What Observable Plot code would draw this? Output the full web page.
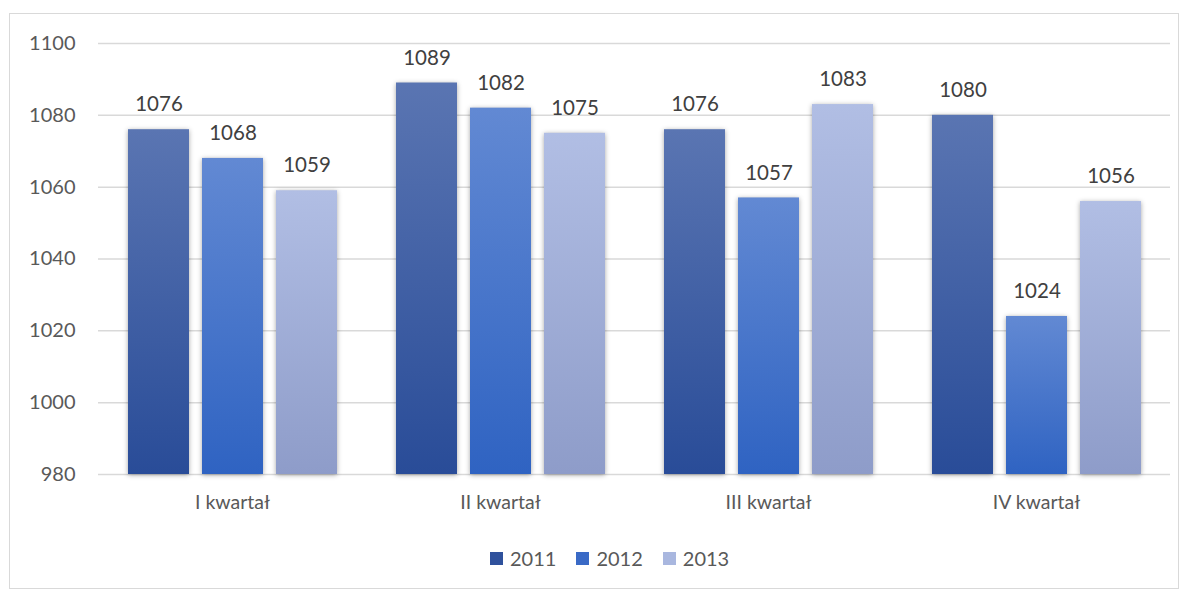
<!DOCTYPE html>
<html>
<head>
<meta charset="utf-8">
<script src="https://cdn.jsdelivr.net/npm/d3@7"></script>
<script src="https://cdn.jsdelivr.net/npm/@observablehq/plot@0.6"></script>
<style>
  html, body { margin: 0; padding: 0; background: #fff; }
  #frame { position: absolute; left: 9px; top: 13px; width: 1170px; height: 576px; border: 1px solid #d9d9d9; box-sizing: border-box; }
  #chart { position: absolute; left: 0; top: 0; }
  #legend { position: absolute; top: 546px; left: 490px; display: flex; align-items: center; font-family: Lato, sans-serif; font-size: 20px; color: #595959; }
  #legend .item { display: flex; align-items: center; margin-right: 20px; }
  #legend .sw { width: 13px; height: 13px; margin-right: 7px; }
  g[aria-label="bar"] rect { filter: drop-shadow(0px 1px 2.5px rgba(0,0,0,0.35)); }
</style>
</head>
<body>
<div id="frame"></div>
<div id="chart"></div>
<div id="legend"></div>
<script>
const quarters = ["I kwartał", "II kwartał", "III kwartał", "IV kwartał"];
const years = ["2011", "2012", "2013"];
const values2011 = [1076, 1089, 1076, 1080];
const values2012 = [1068, 1082, 1057, 1024];
const values2013 = [1059, 1075, 1083, 1056];
const yTicks = [980, 1000, 1020, 1040, 1060, 1080, 1100];

const gradients = {
  "2011": ["#5a75b2", "#294c98"],
  "2012": ["#6289d3", "#2f63c2"],
  "2013": ["#b1bee4", "#8e9cc9"]
};
const swatch = { "2011": "#2f519c", "2012": "#3a6ac6", "2013": "#a9b7df" };

const series = { "2011": values2011, "2012": values2012, "2013": values2013 };
const data = [];
quarters.forEach((q, i) => years.forEach(y => data.push({ q, year: y, v: series[y][i] })));

const plot = Plot.plot({
  width: 1185,
  height: 530,
  marginLeft: 98,
  marginRight: 15,
  marginTop: 43,
  marginBottom: 56,
  style: { fontFamily: "Lato, sans-serif", background: "transparent" },
  fx: { domain: quarters, paddingInner: 0, paddingOuter: 0, label: null },
  x: { domain: years, paddingInner: 0.1757, paddingOuter: 0.3986, axis: null },
  y: { domain: [980, 1100], label: null },
  color: { type: "identity" },
  marks: [
    Plot.ruleY(yTicks, { stroke: "#d9d9d9", strokeWidth: 1.5 }),
    Plot.barY(data, { fx: "q", x: "year", y1: 980, y2: "v", fill: d => `url(#g${d.year})` }),
    Plot.text(data, { fx: "q", x: "year", y: "v", text: d => String(d.v), dy: -25, fill: "#404040", fontSize: 20.5 }),
    Plot.axisY(yTicks, { tickSize: 0, tickPadding: 23, fontSize: 20, fill: "#595959", label: null, tickFormat: d => String(d) }),
    Plot.axisFx({ anchor: "bottom", tickSize: 0, tickPadding: 21, fontSize: 19.5, fill: "#595959", label: null })
  ]
});

const defs = d3.select(plot).insert("defs", ":first-child");
years.forEach(y => {
  const g = defs.append("linearGradient").attr("id", "g" + y)
    .attr("x1", 0).attr("y1", 0).attr("x2", 0).attr("y2", 1);
  g.append("stop").attr("offset", "0%").attr("stop-color", gradients[y][0]);
  g.append("stop").attr("offset", "100%").attr("stop-color", gradients[y][1]);
});

document.getElementById("chart").appendChild(plot);

const legend = document.getElementById("legend");
years.forEach(y => {
  const item = document.createElement("div");
  item.className = "item";
  const sw = document.createElement("div");
  sw.className = "sw";
  sw.style.background = swatch[y];
  const t = document.createElement("span");
  t.textContent = y;
  item.appendChild(sw);
  item.appendChild(t);
  legend.appendChild(item);
});
</script>
</body>
</html>
